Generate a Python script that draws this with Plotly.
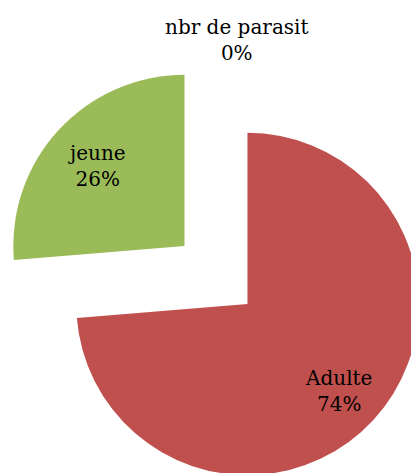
import plotly.graph_objects as go

# Data
labels = ["nbr de parasit", "Adulte", "jeune"]
values = [0, 73.7, 26.3]
colors = ["#4F81BD", "#C0504D", "#9BBB59"]
pulls = [0.25, 0.25, 0.25]

total = sum(values)
pct_text = [f"{lab}<br>{round(100 * v / total):.0f}%" for lab, v in zip(labels, values)]

# label anchor positions (pixel space of the figure)
label_px = [(237, 40), (338, 391), (96.5, 166)]

W, H = 430, 489
ML, MT = 2, 61
PW, PH = W - ML, H - MT

fig = go.Figure(
    go.Pie(
        labels=labels,
        values=values,
        marker=dict(colors=colors, line=dict(width=0)),
        pull=pulls,
        sort=False,
        direction="clockwise",
        rotation=0,
        textinfo="none",
        hoverinfo="label+percent",
        showlegend=False,
    )
)

annotations = []
for txt, (px, py) in zip(pct_text, label_px):
    annotations.append(
        dict(
            text=txt,
            x=(px - ML) / PW,
            y=1 - (py - MT) / PH,
            xref="paper",
            yref="paper",
            xanchor="center",
            yanchor="middle",
            showarrow=False,
            font=dict(family="DejaVu Serif, serif", size=20, color="black"),
        )
    )

fig.update_layout(
    width=W,
    height=H,
    margin=dict(l=ML, r=0, t=MT, b=0, pad=0),
    paper_bgcolor="white",
    plot_bgcolor="white",
    annotations=annotations,
    showlegend=False,
)

fig.write_html("out.html")
